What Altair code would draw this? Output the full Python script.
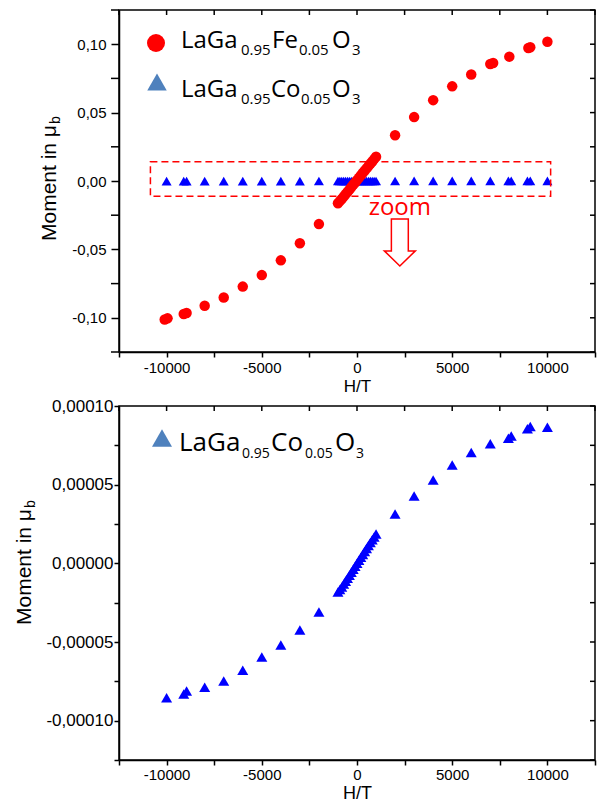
import altair as alt
import pandas as pd

# ---------------- data ----------------
# LaGa0.95Fe0.05O3 (red circles, top panel)
fe_h = [-10100, -9950, -9100, -8950, -8000, -7000, -6000, -5000, -4000, -3000, -2000,
        -1000, -900, -800, -700, -600, -500, -400, -300, -200, -100, 0,
        100, 200, 300, 400, 500, 600, 700, 800, 900, 1000,
        2000, 3000, 4000, 5000, 6000, 7000, 7150, 8000, 9000, 9100, 10000]
fe_m = [-0.1012, -0.1004, -0.0972, -0.0965, -0.0912, -0.0852, -0.0772, -0.0688, -0.0580, -0.0455, -0.0315,
        -0.0163, -0.0147, -0.0131, -0.0114, -0.0097, -0.0080, -0.0063, -0.0046, -0.0028, -0.0011, 0.0006,
        0.0023, 0.0041, 0.0058, 0.0075, 0.0092, 0.0109, 0.0126, 0.0143, 0.0160, 0.0177,
        0.0335, 0.0467, 0.0591, 0.0692, 0.0779, 0.0855, 0.0862, 0.0909, 0.0972, 0.0978, 0.1018]

# LaGa0.95Co0.05O3 (blue triangles), moment in units of 1e-5 mu_b
co_h = [-10000, -9100, -8950, -8000, -7000, -6000, -5000, -4000, -3000, -2000,
        -1000, -900, -800, -700, -600, -500, -400, -300, -200, -100, 0,
        100, 200, 300, 400, 500, 600, 700, 800, 900, 1000,
        2000, 3000, 4000, 5000, 6000, 7000, 7950, 8100, 8950, 9100, 10000]
co_m_e5 = [-8.55, -8.30, -8.12, -7.88, -7.48, -6.80, -5.95, -5.19, -4.24, -3.09,
           -1.82, -1.66, -1.50, -1.32, -1.13, -0.95, -0.76, -0.57, -0.38, -0.19, 0.00,
           0.19, 0.38, 0.57, 0.76, 0.95, 1.13, 1.32, 1.50, 1.68, 1.86,
           3.14, 4.28, 5.30, 6.25, 7.05, 7.60, 7.95, 8.10, 8.55, 8.70, 8.65]
co_m = [v * 1e-5 for v in co_m_e5]

# axes
x_domain = [-12500, 12500]
x_ticks = [-12500, -10000, -7500, -5000, -2500, 0, 2500, 5000, 7500, 10000, 12500]
top_y_domain = [-0.125, 0.125]
top_y_major = [-0.1, -0.05, 0.0, 0.05, 0.1]
top_y_minor = [-0.125, -0.075, -0.025, 0.025, 0.075, 0.125]
top_y_ticks = top_y_major + top_y_minor
bot_y_domain = [-0.000125, 0.0001]
bot_y_ticks = [-0.000125, -0.0001, -0.000075, -0.00005, -0.000025, 0.0, 0.000025, 0.00005, 0.000075, 0.0001]

# zoom annotation (data coordinates of the top panel)
zoom_box = {"x0": [-10850], "x1": [10170], "y0": [-0.0112], "y1": [0.0141]}
zoom_label = {"H": [2250], "M": [-0.025], "t": ["zoom"]}
zoom_arrow = {"H": [2250], "M": [-0.0449]}

fe_df = pd.DataFrame({"H": fe_h, "M": fe_m})
co_df = pd.DataFrame({"H": co_h, "M": co_m})

RED = "#ff0000"
BLUE = "#0000ff"
LEG_BLUE = "#4f81bd"
AXFONT = "Liberation Sans"
LEGFONT = "Open Sans"

xlab = "datum.value % 5000 == 0 ? (datum.value < 0 ? '-' : '') + abs(datum.value) : ''"
ylab_top = ("(datum.value < -1e-9 ? '-' : '') + "
            "replace(format(abs(datum.value), '.2f'), '.', ',')")
ylab_bot = ("abs(round(datum.value / 0.000025)) % 2 == 0 ? (datum.value < -1e-12 ? '-' : '') + "
            "replace(format(abs(datum.value), '.5f'), '.', ',') : ''")

W = 476


def seg(text, x, y, size, font=LEGFONT, color="black", angle=0):
    return alt.Chart(pd.DataFrame({"t": [text]})).mark_text(
        align="left", baseline="alphabetic", font=font, fontSize=size, color=color, angle=angle
    ).encode(text="t:N", x=alt.value(x), y=alt.value(y))


def sym(x, y, shape, size, color):
    return alt.Chart(pd.DataFrame({"a": [0]})).mark_point(
        shape=shape, filled=True, size=size, color=color, opacity=1
    ).encode(x=alt.value(x), y=alt.value(y))


def frame_ticks(xs, ys, ticks_x, ticks_y):
    # tick marks on the top and right edges of the box (pointing inward)
    tx = alt.Chart(pd.DataFrame({"v": ticks_x})).mark_rule(color="black", strokeWidth=1.5).encode(
        x=alt.X("v:Q", scale=xs, axis=None), y=alt.value(0), y2=alt.value(5))
    ty = alt.Chart(pd.DataFrame({"v": ticks_y})).mark_rule(color="black", strokeWidth=1.5).encode(
        y=alt.Y("v:Q", scale=ys, axis=None), x=alt.value(W - 5), x2=alt.value(W))
    return [tx, ty]


# ---------------- top panel ----------------
xs1 = alt.Scale(domain=x_domain, nice=False, zero=False)
ys1 = alt.Scale(domain=top_y_domain, nice=False, zero=False)

ax_b1 = alt.Axis(orient="bottom", values=x_ticks, labelExpr=xlab, tickSize=5, labelPadding=3,
                 labelFontSize=15, title="H/T", titleFontSize=17, titleFontWeight="normal",
                 titlePadding=3, labelFlush=False, labelOverlap=False)
ax_l1 = alt.Axis(orient="left", values=top_y_major, labelExpr=ylab_top, tickSize=8, labelPadding=5,
                 labelFontSize=15, title=None, labelOverlap=False)

co_top = alt.Chart(co_df).mark_point(shape="triangle-up", filled=True, color=BLUE, size=100, opacity=1).encode(
    x=alt.X("H:Q", scale=xs1, axis=ax_b1), y=alt.Y("M:Q", scale=ys1, axis=ax_l1))
fe_top = alt.Chart(fe_df).mark_circle(color=RED, size=110, opacity=1).encode(
    x=alt.X("H:Q", scale=xs1, axis=None), y=alt.Y("M:Q", scale=ys1, axis=None))
minor_left = alt.Chart(pd.DataFrame({"v": top_y_minor})).mark_rule(color="black", strokeWidth=1.5).encode(
    y=alt.Y("v:Q", scale=ys1, axis=None), x=alt.value(-8), x2=alt.value(0))
box = alt.Chart(pd.DataFrame(zoom_box)).mark_rect(
    fillOpacity=0, stroke=RED, strokeWidth=1.5, strokeDash=[7, 4]).encode(
    x=alt.X("x0:Q", scale=xs1, axis=None), x2="x1:Q",
    y=alt.Y("y0:Q", scale=ys1, axis=None), y2="y1:Q")
ztext = alt.Chart(pd.DataFrame(zoom_label)).mark_text(
    font=LEGFONT, fontSize=24, color=RED, align="center", baseline="alphabetic").encode(
    x=alt.X("H:Q", scale=xs1, axis=None), y=alt.Y("M:Q", scale=ys1, axis=None), text="t:N")
arrow_path = "M-0.36,-1L0.36,-1L0.36,0.36L0.66,0.36L0,1L-0.66,0.36L-0.36,0.36Z"
zarrow = alt.Chart(pd.DataFrame(zoom_arrow)).mark_point(
    shape=arrow_path, filled=True, fill="white", stroke=RED, strokeWidth=1.5, size=2209, opacity=1).encode(
    x=alt.X("H:Q", scale=xs1, axis=None), y=alt.Y("M:Q", scale=ys1, axis=None))

leg_top = [
    sym(37, 33, "circle", 324, RED),
    seg("LaGa", 62, 38, 24), seg("0.95", 122, 45, 15), seg("Fe", 153, 38, 24),
    seg("0.05", 180, 45, 15), seg("O", 213, 38, 24), seg("3", 233, 45, 15),
    sym(38, 72, "triangle-up", 380, LEG_BLUE),
    seg("LaGa", 62, 87, 24), seg("0.95", 122, 94, 15), seg("Co", 152, 87, 24),
    seg("0.05", 182, 94, 15), seg("O", 213, 87, 24), seg("3", 233, 94, 15),
]
ytitle_top = [seg("Moment in μ", -63, 231, 21, font=AXFONT, angle=270),
              seg("b", -59, 114, 14, font=AXFONT, angle=270)]

top = alt.layer(co_top, fe_top, minor_left, box, ztext, zarrow,
                *frame_ticks(xs1, ys1, x_ticks, top_y_ticks),
                *leg_top, *ytitle_top).resolve_axis(
    x="independent", y="independent").properties(width=W, height=342)

# ---------------- bottom panel ----------------
xs2 = alt.Scale(domain=x_domain, nice=False, zero=False)
ys2 = alt.Scale(domain=bot_y_domain, nice=False, zero=False)

ax_b2 = alt.Axis(orient="bottom", values=x_ticks, labelExpr=xlab, tickSize=5, labelPadding=2,
                 labelFontSize=15, title="H/T", titleFontSize=18, titleFontWeight="normal",
                 titlePadding=2, labelFlush=False, labelOverlap=False)
ax_l2 = alt.Axis(orient="left", values=bot_y_ticks, labelExpr=ylab_bot, tickSize=5, labelPadding=1,
                 labelFontSize=17, title=None, labelOverlap=False)

co_bot = alt.Chart(co_df).mark_point(shape="triangle-up", filled=True, color=BLUE, size=121, opacity=1).encode(
    x=alt.X("H:Q", scale=xs2, axis=ax_b2), y=alt.Y("M:Q", scale=ys2, axis=ax_l2))

leg_bot = [
    sym(43, 32, "triangle-up", 400, LEG_BLUE),
    seg("LaGa", 60, 45, 26), seg("0.95", 123, 52, 14), seg("Co", 152, 45, 26),
    seg("0.05", 186, 52, 14), seg("O", 216, 45, 26), seg("3", 237, 52, 14),
]
ytitle_bot = [seg("Moment in μ", -88, 219, 21, font=AXFONT, angle=270),
              seg("b", -84, 102, 14, font=AXFONT, angle=270)]

bottom = alt.layer(co_bot, *frame_ticks(xs2, ys2, x_ticks, bot_y_ticks), *leg_bot, *ytitle_bot).resolve_axis(
    x="independent", y="independent").properties(width=W, height=354)

chart = alt.vconcat(top, bottom, spacing=54, bounds="flush").properties(
    padding={"left": 5, "top": 0, "right": 0, "bottom": 0}
).configure_view(stroke="black", strokeWidth=1.5).configure_axis(
    grid=False, labelFont=AXFONT, titleFont=AXFONT, labelColor="black", titleColor="black",
    domainColor="black", tickColor="black", domainWidth=1.5, tickWidth=1.5
)

chart.save("out.html", embed_options={"renderer": "svg", "actions": False})
